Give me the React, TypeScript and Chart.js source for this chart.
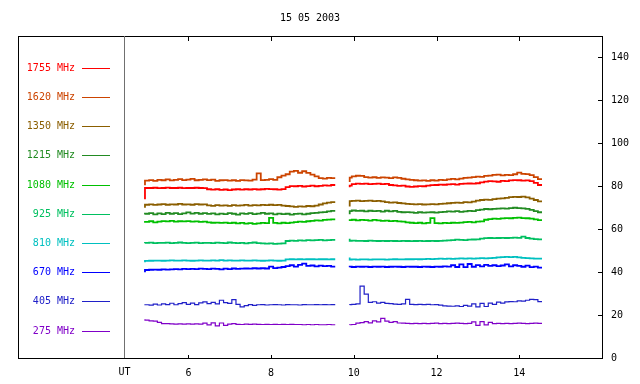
import React, { useEffect, useRef } from "react";
import { Chart, registerables } from "chart.js";

Chart.register(...registerables);

const TITLE = "15 05 2003";
const X_MIN = 1.88;
const X_MAX = 16;
const Y_MIN = 0;
const Y_MAX = 150;
const X_TICKS = [6, 8, 10, 12, 14];
const Y_TICKS = [0, 20, 40, 60, 80, 100, 120, 140];
const UT_LABEL = "UT";
const UT_AT = 4.45;
const GAP_T = 9.7;

const T1 = [4.95, 5.05, 5.15, 5.25, 5.35, 5.45, 5.55, 5.65, 5.75, 5.85, 5.95, 6.05, 6.15, 6.25, 6.35, 6.45, 6.55, 6.65, 6.75, 6.85, 6.95, 7.05, 7.15, 7.25, 7.35, 7.45, 7.55, 7.65, 7.75, 7.85, 7.95, 8.05, 8.15, 8.25, 8.35, 8.45, 8.55, 8.65, 8.75, 8.85, 8.95, 9.05, 9.15, 9.25, 9.35, 9.45, 9.55];
const T2 = [9.9, 9.95, 10.05, 10.15, 10.25, 10.35, 10.45, 10.55, 10.65, 10.75, 10.85, 10.95, 11.05, 11.15, 11.25, 11.35, 11.45, 11.55, 11.65, 11.75, 11.85, 11.95, 12.05, 12.15, 12.25, 12.35, 12.45, 12.55, 12.65, 12.75, 12.85, 12.95, 13.05, 13.15, 13.25, 13.35, 13.45, 13.55, 13.65, 13.75, 13.85, 13.95, 14.05, 14.15, 14.25, 14.35, 14.45, 14.55];

const f1755a = [74.0, 79.2, 79.2, 79.3, 79.1, 79.2, 79.4, 79.2, 79.2, 79.3, 79.1, 79.2, 79.2, 79.3, 79.2, 79.1, 78.6, 78.4, 78.6, 78.3, 78.5, 78.2, 78.5, 78.6, 78.4, 78.6, 78.5, 78.7, 78.5, 78.6, 78.8, 78.7, 78.6, 78.4, 78.7, 79.6, 80.1, 80.0, 80.2, 79.9, 80.1, 80.3, 80.0, 80.2, 80.4, 80.3, 80.6];
const f1755b = [79.6, 80.3, 81.0, 81.2, 81.1, 81.2, 81.0, 81.1, 81.2, 81.0, 81.1, 80.6, 80.4, 80.2, 80.3, 79.9, 79.7, 79.9, 80.1, 80.0, 80.3, 80.5, 80.6, 80.8, 80.7, 80.9, 81.0, 80.8, 81.1, 81.2, 81.3, 81.2, 81.4, 81.8, 82.2, 82.4, 82.3, 82.1, 82.5, 82.4, 82.7, 82.9, 82.8, 82.6, 82.7, 82.4, 81.6, 80.6];

const f1620a = [80.5, 82.6, 82.9, 82.5, 83.0, 82.8, 83.2, 82.7, 83.0, 83.3, 82.9, 83.1, 83.4, 82.8, 83.0, 83.2, 82.9, 83.1, 82.5, 82.8, 82.9, 82.6, 82.8, 82.5, 82.9, 82.7, 82.6, 83.1, 86.0, 82.9, 83.0, 83.3, 83.0, 84.2, 85.0, 85.6, 86.8, 87.2, 86.3, 87.0, 86.2, 85.4, 84.6, 83.8, 83.6, 83.9, 83.8];
const f1620b = [82.0, 84.0, 84.6, 84.9, 84.8, 84.3, 84.0, 84.2, 83.9, 84.1, 84.0, 83.8, 84.1, 83.9, 83.5, 83.2, 83.0, 82.8, 82.6, 82.7, 82.5, 82.8, 82.6, 83.0, 82.9, 83.2, 83.4, 83.2, 83.6, 83.9, 84.0, 84.3, 84.5, 84.4, 84.8, 85.0, 85.3, 85.4, 85.1, 85.3, 85.2, 85.6, 86.4, 85.8, 85.7, 85.2, 84.3, 83.3];

const f1350a = [70.0, 71.4, 71.6, 71.3, 71.5, 71.7, 71.4, 71.6, 71.5, 71.8, 71.5, 71.6, 71.4, 71.7, 71.5, 71.6, 71.1, 70.9, 71.2, 71.0, 71.1, 70.9, 71.2, 71.0, 71.1, 71.3, 71.0, 71.2, 71.1, 71.3, 71.2, 71.4, 71.2, 71.3, 71.0, 70.8, 70.6, 70.4, 70.6, 70.5, 70.8, 70.7, 71.0, 71.5, 72.0, 72.4, 72.6];
const f1350b = [70.6, 73.1, 73.2, 73.3, 73.1, 73.2, 73.3, 73.1, 73.2, 73.0, 72.6, 72.4, 72.5, 72.2, 72.0, 71.8, 71.7, 71.6, 71.7, 71.5, 71.6, 71.7, 71.6, 71.8, 71.9, 72.1, 72.3, 72.4, 72.3, 72.6, 72.5, 72.8, 73.3, 73.6, 73.8, 73.7, 74.0, 74.2, 74.4, 74.6, 74.9, 75.1, 75.0, 75.2, 74.8, 74.2, 73.6, 73.0];

const f1215a = [66.8, 67.2, 67.5, 66.9, 67.4, 67.0, 67.6, 67.2, 67.5, 67.0, 67.4, 67.8, 67.3, 67.6, 67.2, 67.5, 67.1, 67.4, 66.9, 67.3, 67.0, 67.5, 67.2, 66.8, 67.4, 67.1, 67.5, 67.0, 67.3, 67.6, 67.2, 67.4, 66.9, 67.3, 67.0, 67.2, 66.8, 67.1, 67.3, 66.9, 67.2, 67.5, 67.6, 67.8, 68.0, 68.3, 68.5];
const f1215b = [67.0, 68.4, 68.7, 68.5, 68.6, 68.3, 68.6, 68.4, 68.5, 68.2, 68.6, 68.3, 68.5, 68.1, 67.9, 68.0, 67.8, 67.6, 67.9, 67.7, 67.8, 67.9, 67.7, 68.0, 68.1, 68.3, 68.2, 68.4, 68.1, 68.3, 68.5, 68.4, 68.9, 69.1, 69.4, 69.3, 69.5, 69.6, 69.7, 69.6, 69.8, 70.0, 69.8, 69.7, 69.5, 69.0, 68.4, 67.9];

const f1080a = [63.0, 63.4, 63.7, 63.2, 63.5, 63.8, 63.6, 63.9, 63.5, 63.7, 63.6, 63.8, 63.5, 63.6, 63.4, 63.5, 63.2, 63.0, 63.1, 62.9, 63.1, 62.8, 63.0, 62.7, 62.9, 62.6, 62.8, 62.5, 62.7, 62.9, 62.8, 65.3, 62.9, 62.7, 63.0, 62.8, 63.1, 63.3, 63.5, 63.4, 63.7, 63.9, 64.1, 64.0, 64.3, 64.5, 64.6];
const f1080b = [63.8, 64.2, 64.4, 64.1, 64.3, 64.2, 64.0, 64.3, 64.1, 63.9, 64.0, 63.8, 63.9, 63.6, 63.5, 63.2, 63.0, 62.8, 63.0, 62.7, 62.9, 65.2, 62.8, 62.7, 62.9, 62.8, 63.0, 62.9, 63.1, 63.3, 63.4, 63.2, 63.5, 63.6, 64.4, 64.7, 64.9, 64.8, 65.0, 65.2, 65.1, 65.3, 65.4, 65.2, 65.1, 64.9, 64.6, 64.2];

const f925a = [53.5, 53.6, 53.7, 53.5, 53.6, 53.6, 53.7, 53.5, 53.6, 53.8, 53.6, 53.5, 53.6, 53.7, 53.5, 53.6, 53.6, 53.5, 53.7, 53.6, 53.5, 53.8, 53.6, 53.5, 53.6, 53.4, 53.6, 53.8, 53.5, 53.4, 53.3, 53.4, 53.2, 53.3, 53.4, 54.5, 54.7, 54.6, 54.8, 54.7, 54.9, 54.8, 54.9, 55.0, 54.8, 54.9, 55.0];
const f925b = [55.6, 54.6, 54.7, 54.6, 54.6, 54.5, 54.7, 54.6, 54.5, 54.6, 54.5, 54.6, 54.5, 54.4, 54.6, 54.5, 54.4, 54.5, 54.6, 54.4, 54.5, 54.6, 54.5, 54.6, 54.7, 54.8, 54.9, 55.1, 55.0, 54.9, 55.1, 55.2, 55.3, 55.6, 55.8, 55.9, 55.8, 55.9, 56.0, 55.9, 56.0, 56.1, 56.0, 56.5, 55.9, 55.6, 55.4, 55.3];

const f810a = [44.6, 45.2, 45.3, 45.4, 45.4, 45.3, 45.4, 45.5, 45.4, 45.4, 45.5, 45.4, 45.3, 45.4, 45.5, 45.4, 45.4, 45.5, 45.4, 45.6, 45.4, 45.5, 45.4, 45.4, 45.5, 45.4, 45.4, 45.5, 45.4, 45.3, 45.4, 45.5, 45.4, 45.3, 45.4, 45.9, 46.0, 45.9, 46.0, 45.9, 46.0, 46.0, 45.9, 46.0, 46.0, 45.9, 46.0];
const f810b = [46.8, 45.8, 45.9, 45.8, 45.9, 45.9, 45.8, 45.9, 45.9, 45.9, 45.8, 45.9, 46.0, 45.9, 45.9, 46.0, 46.0, 46.1, 46.0, 46.1, 46.2, 46.1, 46.2, 46.3, 46.2, 46.3, 46.2, 46.3, 46.4, 46.3, 46.4, 46.3, 46.4, 46.5, 46.4, 46.5, 46.6, 46.9, 47.0, 47.1, 47.0, 47.1, 46.9, 46.6, 46.5, 46.4, 46.3, 46.3];

const f670a = [40.0, 41.0, 41.1, 41.2, 41.1, 41.3, 41.2, 41.3, 41.4, 41.3, 41.5, 41.4, 41.5, 41.4, 41.6, 41.5, 41.4, 41.6, 41.5, 41.3, 41.6, 41.4, 41.7, 41.5, 41.6, 41.7, 41.6, 41.8, 41.7, 41.8, 41.7, 42.6, 41.9, 42.1, 42.4, 42.8, 43.2, 42.6, 43.4, 44.0, 42.9, 43.1, 42.7, 43.0, 42.8, 42.9, 42.6];
const f670b = [42.3, 42.6, 42.4, 42.6, 42.5, 42.6, 42.4, 42.6, 42.5, 42.6, 42.4, 42.5, 42.6, 42.5, 42.4, 42.6, 42.5, 42.5, 42.4, 42.6, 42.5, 42.4, 42.6, 42.5, 42.7, 42.6, 43.2, 42.4, 43.6, 42.3, 43.8, 42.5, 43.3, 42.7, 43.4, 42.9, 43.2, 42.8, 43.1, 43.6, 42.7, 43.2, 42.9, 42.5, 43.0, 42.3, 42.6, 42.1];

const f405a = [25.0, 24.8, 24.6, 25.1, 24.7, 25.2, 24.9, 25.5, 24.8, 25.3, 25.8, 25.0, 25.6, 24.9, 25.7, 26.1, 25.3, 25.9, 25.2, 26.9, 25.8, 25.4, 27.2, 25.0, 23.8, 24.4, 24.9, 24.5, 24.8, 24.9, 24.7, 24.8, 24.9, 24.8, 24.7, 24.9, 24.8, 24.8, 24.7, 24.9, 24.8, 24.8, 24.9, 24.8, 24.9, 24.8, 24.9];
const f405b = [24.8, 24.9, 25.0, 25.2, 33.5, 29.8, 25.9, 26.2, 25.6, 25.9, 25.4, 25.3, 25.1, 25.0, 25.2, 27.3, 25.0, 24.9, 25.0, 24.9, 25.0, 24.8, 24.9, 24.6, 24.3, 24.2, 24.1, 24.3, 24.0, 24.5, 24.2, 25.2, 23.8, 25.4, 24.0, 25.6, 25.0, 26.0, 25.6, 26.1, 26.3, 26.2, 26.6, 26.5, 26.9, 27.3, 27.2, 26.3];

const f275a = [18.0, 17.6, 17.3, 17.2, 16.6, 16.0, 16.0, 15.9, 15.8, 15.9, 15.8, 15.9, 15.8, 15.9, 15.8, 16.2, 15.4, 16.4, 15.0, 16.3, 15.2, 15.8, 16.0, 15.7, 15.6, 15.8, 15.7, 15.8, 15.7, 15.6, 15.7, 15.6, 15.7, 15.6, 15.7, 15.6, 15.7, 15.6, 15.6, 15.5, 15.6, 15.5, 15.6, 15.5, 15.5, 15.6, 15.5];
const f275b = [15.4, 15.5, 15.6, 16.2, 16.5, 16.9, 16.4, 17.3, 16.8, 18.5, 17.2, 16.6, 16.9, 16.3, 16.2, 16.1, 16.0, 16.1, 16.0, 16.1, 16.0, 16.1, 16.2, 16.0, 16.1, 16.0, 16.1, 16.2, 16.1, 16.0, 16.1, 16.8, 15.2, 16.9, 15.4, 16.6, 16.0, 16.1, 16.0, 16.1, 16.0, 16.1, 16.2, 16.1, 16.0, 16.1, 16.2, 16.1];

const LABELS = ["1755 MHz", "1620 MHz", "1350 MHz", "1215 MHz", "1080 MHz", "925 MHz", "810 MHz", "670 MHz", "405 MHz", "275 MHz"];
const COLORS = ["#ff0000", "#cc4400", "#8b5e00", "#228b22", "#00c000", "#00c060", "#00c0c0", "#0000ff", "#2020c8", "#8000c8"];
const SEG_A = [f1755a, f1620a, f1350a, f1215a, f1080a, f925a, f810a, f670a, f405a, f275a];
const SEG_B = [f1755b, f1620b, f1350b, f1215b, f1080b, f925b, f810b, f670b, f405b, f275b];

const FONT = "10px 'DejaVu Sans Mono', monospace";

const decorPlugin = {
  id: "decor",
  afterDraw(chart: any) {
    const { ctx, chartArea: a, scales } = chart;
    const xs = scales.x;
    const ys = scales.y;
    ctx.save();
    ctx.strokeStyle = "#000";
    ctx.lineWidth = 1;
    ctx.strokeRect(Math.round(a.left) + 0.5, Math.round(a.top) + 0.5, Math.round(a.right - a.left), Math.round(a.bottom - a.top));
    ctx.beginPath();
    X_TICKS.forEach((v) => {
      const px = Math.round(xs.getPixelForValue(v)) + 0.5;
      ctx.moveTo(px, a.top);
      ctx.lineTo(px, a.top + 5);
      ctx.moveTo(px, a.bottom);
      ctx.lineTo(px, a.bottom - 3);
    });
    Y_TICKS.forEach((v) => {
      const py = Math.round(ys.getPixelForValue(v)) + 0.5;
      ctx.moveTo(a.right - 4, py);
      ctx.lineTo(a.right, py);
    });
    ctx.stroke();
    const ux = Math.round(xs.getPixelForValue(UT_AT)) + 0.5;
    ctx.strokeStyle = "#707070";
    ctx.beginPath();
    ctx.moveTo(ux, a.top);
    ctx.lineTo(ux, a.bottom);
    ctx.stroke();
    ctx.font = FONT;
    ctx.fillStyle = "#000";
    ctx.textAlign = "center";
    ctx.textBaseline = "middle";
    ctx.fillText(UT_LABEL, ux, a.bottom + 14);
    ctx.fillText(TITLE, (a.left + a.right) / 2, 18);
    LABELS.forEach((lab, i) => {
      const y = Math.round(a.top + 31.7 + i * 29.2);
      ctx.fillStyle = COLORS[i];
      ctx.textAlign = "right";
      ctx.fillText(lab, a.left + 57, y);
      ctx.strokeStyle = COLORS[i];
      ctx.beginPath();
      ctx.moveTo(a.left + 64, y + 0.5);
      ctx.lineTo(a.left + 92, y + 0.5);
      ctx.stroke();
    });
    ctx.restore();
  },
};

export default function App() {
  const ref = useRef<HTMLCanvasElement | null>(null);
  useEffect(() => {
    if (!ref.current) return;
    const datasets = LABELS.map((lab, i) => ({
      label: lab,
      data: [
        ...SEG_A[i].map((y, k) => ({ x: T1[k], y })),
        { x: GAP_T, y: null },
        ...SEG_B[i].map((y, k) => ({ x: T2[k], y })),
      ],
      borderColor: COLORS[i],
      backgroundColor: COLORS[i],
      borderWidth: i >= 8 ? 1.2 : 1.8,
      pointRadius: 0,
      stepped: "after" as const,
      spanGaps: false,
      fill: false,
    }));
    const chart = new Chart(ref.current, {
      type: "line",
      data: { datasets: datasets as any },
      options: {
        animation: false,
        responsive: false,
        layout: { padding: { left: 18, top: 36, right: 0, bottom: 0 } },
        plugins: { legend: { display: false }, title: { display: false }, tooltip: { enabled: false } },
        scales: {
          x: {
            type: "linear",
            min: X_MIN,
            max: X_MAX,
            grid: { display: false, drawTicks: false },
            border: { display: false },
            ticks: { font: { family: "'DejaVu Sans Mono', monospace", size: 10 }, color: "#000", padding: 9, maxRotation: 0 },
            afterBuildTicks: (s: any) => { s.ticks = X_TICKS.map((v) => ({ value: v })); },
            afterFit: (s: any) => { s.height = 26; },
          },
          y: {
            type: "linear",
            position: "right",
            min: Y_MIN,
            max: Y_MAX,
            grid: { display: false, drawTicks: false },
            border: { display: false },
            ticks: { font: { family: "'DejaVu Sans Mono', monospace", size: 10 }, color: "#000", padding: 9 },
            afterBuildTicks: (s: any) => { s.ticks = Y_TICKS.map((v) => ({ value: v })); },
            afterFit: (s: any) => { s.width = 38; },
          },
        },
      },
      plugins: [decorPlugin],
    });
    return () => chart.destroy();
  }, []);
  return (
    <div style={{ position: "absolute", left: 0, top: 0, width: 640, height: 384, background: "#fff" }}>
      <canvas ref={ref} width={640} height={384} />
    </div>
  );
}
